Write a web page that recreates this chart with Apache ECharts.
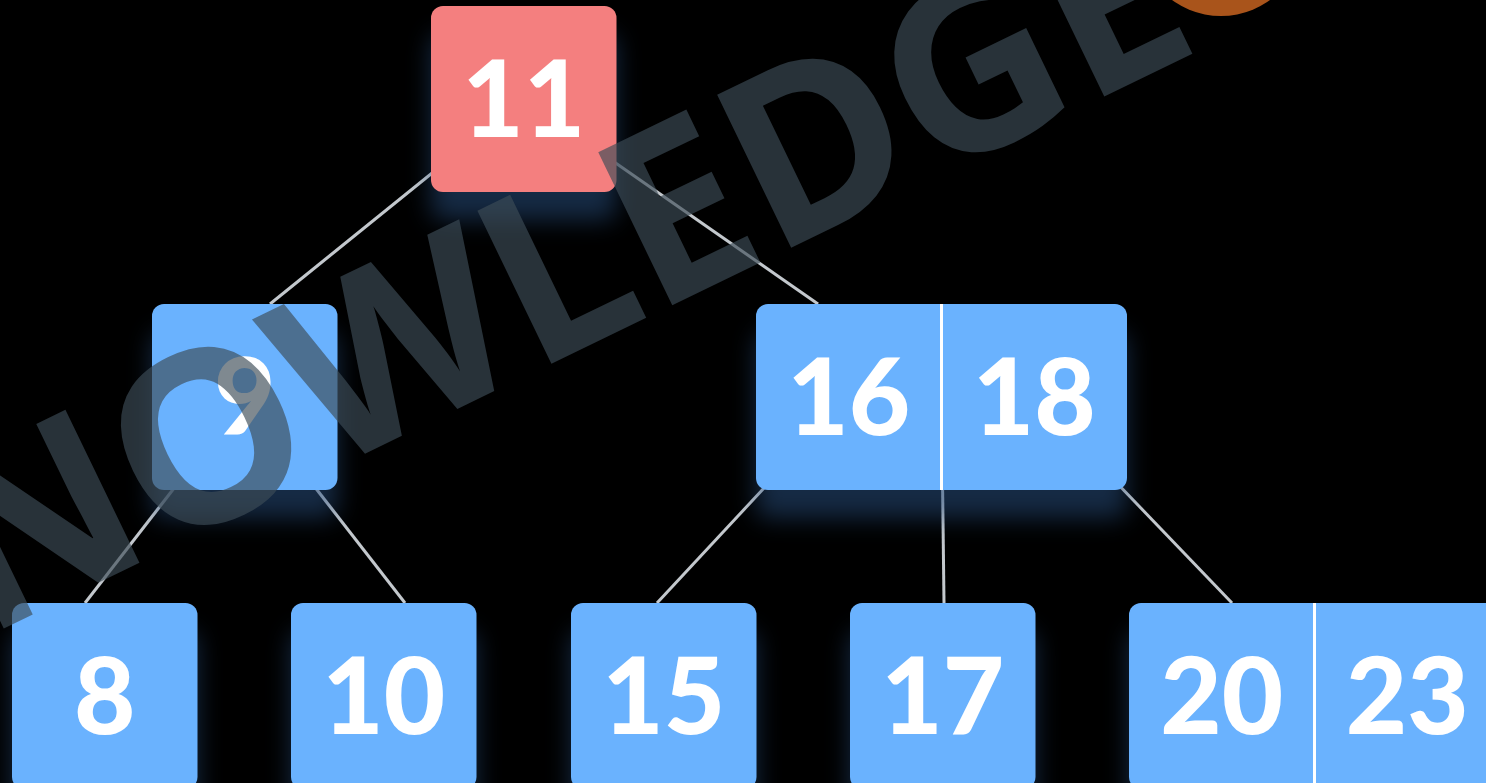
<!DOCTYPE html>
<html>
<head>
<meta charset="utf-8">
<style>
  html, body { margin: 0; padding: 0; background: #000; }
  #chart { width: 1486px; height: 783px; }
</style>
<script src="https://cdn.jsdelivr.net/npm/echarts@6/dist/echarts.min.js"></script>
</head>
<body>
<div id="chart"></div>
<script>
// ---------- DATA (B-tree structure) ----------
const nodeKeys   = [[11], [9], [16, 18], [8], [10], [15], [17], [20, 23]];
const nodeParent = [-1, 0, 0, 1, 1, 2, 2, 2];
const nodeLevel  = [0, 1, 1, 2, 2, 2, 2, 2];
const watermarkText = 'KNOWLEDGE';

// ---------- LAYOUT / STYLE ----------
const W = 1486, H = 783;
const LAYOUT = {
  cellW: 185.5,
  boxH: 186,
  radius: 12,
  rowTop: [6, 304, 603],
  boxLeft: [431, 152, 756, 12, 291, 571, 850, 1129],
  childAnchorDx: [0, 118, 62, 73, 114, 86, 94, 103]
};
const STYLE = {
  root: '#F47F7F',
  node: '#6AB2FE',
  edge: '#c3c8cd',
  text: '#ffffff',
  font: '900 106px Lato, "Open Sans", sans-serif'
};

function nodeBox(i) {
  const n = nodeKeys[i].length;
  return { x: LAYOUT.boxLeft[i], y: LAYOUT.rowTop[nodeLevel[i]], w: LAYOUT.cellW * n, h: LAYOUT.boxH, n: n };
}

// edges built from the parent/child structure
const edges = [];
const childCount = {};
nodeParent.forEach((p, i) => {
  if (p < 0) return;
  const k = childCount[p] || 0;
  childCount[p] = k + 1;
  const pb = nodeBox(p), cb = nodeBox(i);
  let px;
  if (k === 0) px = pb.x + LAYOUT.cellW * 0.5;
  else if (k === pb.n) px = pb.x + LAYOUT.cellW * (pb.n - 0.5);
  else px = pb.x + LAYOUT.cellW * k;
  const py = pb.y + pb.h / 2;
  const cx = cb.x + LAYOUT.childAnchorDx[i];
  const cy = cb.y;
  edges.push([px, py, cx, cy]);
});

const chart = echarts.init(document.getElementById('chart'), null, { renderer: 'canvas' });

const option = {
  backgroundColor: '#000000',
  animation: false,
  grid: { left: 0, right: 0, top: 0, bottom: 0 },
  xAxis: { type: 'value', min: 0, max: W, show: false },
  yAxis: { type: 'value', min: 0, max: H, inverse: true, show: false },
  series: [
    {
      type: 'custom',
      name: 'edges',
      z: 1,
      silent: true,
      data: edges,
      renderItem: function (params, api) {
        const a = api.coord([api.value(0), api.value(1)]);
        const b = api.coord([api.value(2), api.value(3)]);
        return {
          type: 'line',
          shape: { x1: a[0], y1: a[1], x2: b[0], y2: b[1] },
          style: { stroke: STYLE.edge, lineWidth: 3 }
        };
      }
    },
    {
      type: 'custom',
      name: 'nodes',
      z: 2,
      silent: true,
      data: nodeKeys.map((k, i) => [i]),
      renderItem: function (params, api) {
        const i = api.value(0);
        const b = nodeBox(i);
        const tl = api.coord([b.x, b.y]);
        const sz = api.size([b.w, b.h]);
        const cw = sz[0] / b.n;
        const children = [{
          type: 'rect',
          shape: { x: tl[0], y: tl[1], width: sz[0], height: sz[1], r: LAYOUT.radius },
          style: {
            fill: i === 0 ? STYLE.root : STYLE.node,
            shadowBlur: 24,
            shadowOffsetY: 28,
            shadowColor: 'rgba(40,78,125,0.55)'
          }
        }];
        for (let d = 1; d < b.n; d++) {
          children.push({
            type: 'line',
            shape: { x1: tl[0] + cw * d, y1: tl[1], x2: tl[0] + cw * d, y2: tl[1] + sz[1] },
            style: { stroke: '#ffffff', lineWidth: 3 }
          });
        }
        nodeKeys[i].forEach((key, j) => {
          children.push({
            type: 'text',
            style: {
              text: String(key),
              x: tl[0] + cw * (j + 0.5),
              y: tl[1] + sz[1] / 2 + 4,
              fill: STYLE.text,
              font: STYLE.font,
              align: 'center',
              verticalAlign: 'middle'
            }
          });
        });
        return { type: 'group', children: children };
      }
    }
  ],
  graphic: [
    {
      type: 'circle',
      z: 50,
      silent: true,
      shape: { cx: 1221, cy: -67, r: 83 },
      style: { fill: '#A9541B' }
    },
    {
      type: 'text',
      z: 100,
      silent: true,
      x: 494,
      y: 316,
      rotation: 25.8 * Math.PI / 180,
      style: {
        text: watermarkText,
        font: 'bold 238px "Noto Sans", "Open Sans", sans-serif',
        fill: 'rgba(60,76,86,0.66)',
        align: 'center',
        verticalAlign: 'middle'
      }
    }
  ]
};

chart.setOption(option);
</script>
</body>
</html>
